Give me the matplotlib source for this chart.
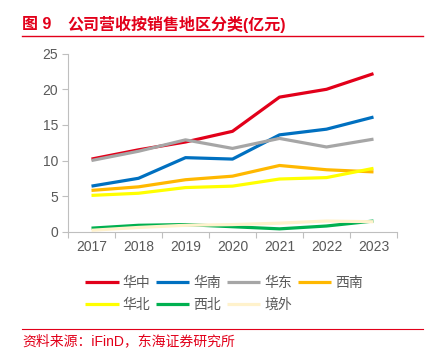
import matplotlib
matplotlib.use("Agg")
import matplotlib.pyplot as plt
from matplotlib.lines import Line2D

plt.rcParams['font.family'] = ['Liberation Sans', 'Noto Sans CJK SC', 'DejaVu Sans']

# data (亿元)
years = ["2017", "2018", "2019", "2020", "2021", "2022", "2023"]
huazhong = [10.2, 11.5, 12.6, 14.1, 18.9, 20.0, 22.2]
huanan = [6.4, 7.5, 10.4, 10.2, 13.6, 14.4, 16.1]
huadong = [10.0, 11.3, 12.9, 11.7, 13.1, 11.9, 13.0]
xinan = [5.8, 6.3, 7.3, 7.8, 9.3, 8.7, 8.4]
huabei = [5.1, 5.4, 6.2, 6.4, 7.4, 7.6, 8.9]
xibei = [0.5, 0.9, 1.0, 0.7, 0.4, 0.8, 1.5]
jingwai = [0.2, 0.6, 0.9, 1.0, 1.2, 1.5, 1.4]

series = [
    ("华中", huazhong, "#e2001a"),
    ("华南", huanan, "#0070c0"),
    ("华东", huadong, "#a6a6a6"),
    ("西南", xinan, "#ffb800"),
    ("华北", huabei, "#ffff00"),
    ("西北", xibei, "#00b050"),
    ("境外", jingwai, "#fff2cc"),
]

RED = "#e2001a"
GREY_TXT = "#595959"
AXIS_C = "#bfbfbf"

fig = plt.figure(figsize=(4.30, 3.53), dpi=100)
ax = fig.add_axes([68 / 430, 1 - 231.7 / 353, (397 - 68) / 430, (231.7 - 53.7) / 353])

x = list(range(len(years)))
handles = {}
for name, vals, col in series:
    ln, = ax.plot(x, vals, color=col, lw=2.3, solid_capstyle="butt", label=name)
    handles[name] = ln

ax.set_xlim(-0.5, len(years) - 0.5)
ax.set_ylim(0, 25)
ax.set_yticks([0, 5, 10, 15, 20, 25])
ax.set_xticks(x)
ax.set_xticklabels(years)
ax.set_xticks([i - 0.5 for i in range(len(years) + 1)], minor=True)
ax.tick_params(axis="x", which="major", length=0, pad=6, labelsize=10, labelcolor=GREY_TXT)
ax.tick_params(axis="x", which="minor", length=4, color=AXIS_C, width=0.8)
ax.tick_params(axis="y", length=4, color=AXIS_C, width=0.8, pad=3, labelsize=10, labelcolor=GREY_TXT)

for s in ["top", "right"]:
    ax.spines[s].set_visible(False)
for s in ["left", "bottom"]:
    ax.spines[s].set_color(AXIS_C)
    ax.spines[s].set_linewidth(0.8)

# matplotlib fills legend columns first, so reorder to get rows:
# 华中 华南 华东 西南 / 华北 西北 境外
leg_order = ["华中", "华北", "华南", "西北", "华东", "境外", "西南"]
fig.legend([handles[n] for n in leg_order], leg_order, ncol=4, loc="center",
           bbox_to_anchor=(224 / 430, 1 - 294 / 353),
           frameon=False, fontsize=10, handlelength=2.4, handletextpad=0.3,
           columnspacing=0.4, labelspacing=0.55, borderpad=0, labelcolor=GREY_TXT)

# title and source
fig.text(22 / 430, 1 - 24 / 353, "图 9", color=RED, fontsize=11.5, fontweight="bold", va="center")
fig.text(67 / 430, 1 - 24 / 353, "公司营收按销售地区分类(亿元)", color=RED, fontsize=11.5,
         fontweight="bold", va="center")
fig.add_artist(Line2D([22 / 430, 423 / 430], [1 - 36 / 353, 1 - 36 / 353], color=RED, lw=1.0))
fig.add_artist(Line2D([22 / 430, 423 / 430], [1 - 329 / 353, 1 - 329 / 353], color=RED, lw=0.8))
fig.text(22 / 430, 1 - 341 / 353, "资料来源：iFinD，东海证券研究所", color=RED, fontsize=10, va="center")

fig.savefig("out.png", dpi=100)
